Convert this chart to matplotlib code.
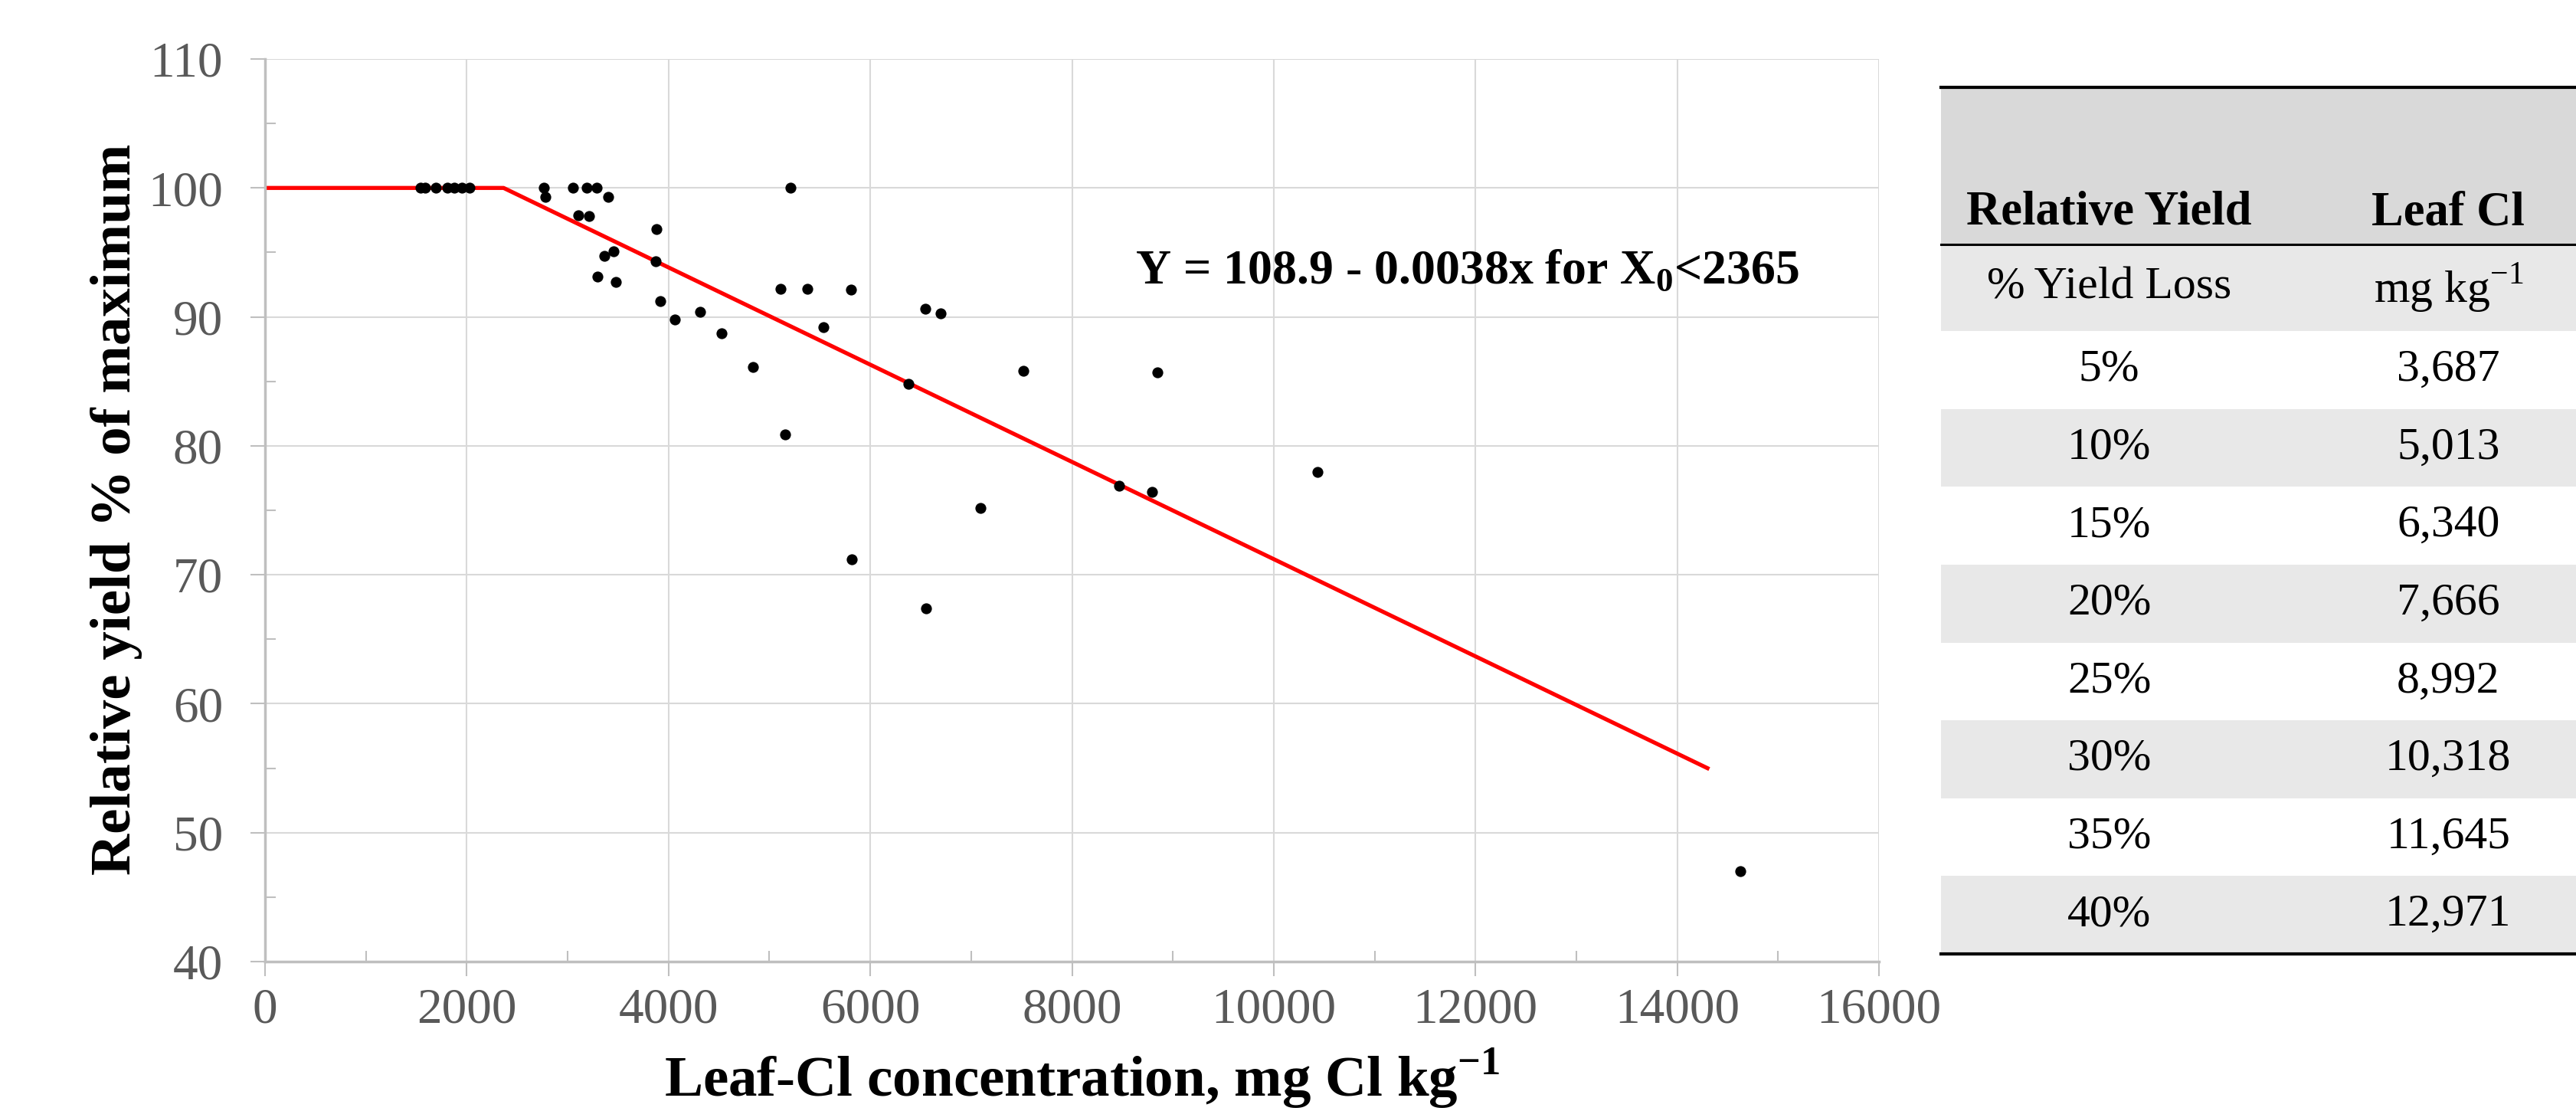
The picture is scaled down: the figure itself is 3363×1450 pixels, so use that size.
import numpy as np
import matplotlib.pyplot as plt
from matplotlib.patches import Rectangle
from matplotlib.ticker import MultipleLocator

plt.rcParams['font.family'] = ['Liberation Serif', 'DejaVu Serif']
plt.rcParams['mathtext.fontset'] = 'custom'
plt.rcParams['mathtext.rm'] = 'Liberation Serif'
plt.rcParams['mathtext.bf'] = 'Liberation Serif:bold'

# Leaf Cl (mg/kg) vs relative yield (%)
leaf_cl = [1543, 1587, 1692, 1805, 1875, 1950, 2027, 2764, 2777, 3052, 3192, 3287,
           3405, 3109, 3213, 3884, 3453, 3366, 3876, 3296, 3479, 3919, 4064, 4312,
           4525, 4839, 5114, 5206, 5380, 5537, 5811, 5153, 5820, 6382, 6543, 6698,
           7516, 8848, 6553, 7090, 8470, 8790, 10432, 14627]
rel_yield = [100, 100, 100, 100, 100, 100, 100, 100, 99.3, 100, 100, 100,
             99.3, 97.9, 97.8, 96.8, 95.1, 94.7, 94.3, 93.1, 92.7, 91.2, 89.8, 90.4,
             88.7, 86.1, 92.2, 100, 92.2, 89.2, 92.1, 80.9, 71.2, 84.8, 90.6, 90.3,
             85.8, 85.7, 67.4, 75.2, 76.9, 76.4, 78.0, 47.0]

# piecewise fit line
fit_x = [0, 2365, 14300]
fit_y = [100, 100, 55.0]

# table
loss_labels = ['5%', '10%', '15%', '20%', '25%', '30%', '35%', '40%']
cl_values = ['3,687', '5,013', '6,340', '7,666', '8,992', '10,318', '11,645', '12,971']

W, H = 3363, 1450
fig = plt.figure(figsize=(W / 100, H / 100), dpi=100)
ax = fig.add_axes([346 / W, 1 - 1255 / H, (2453 - 346) / W, (1255 - 77) / H])

grid_c = '#d9d9d9'
axis_c = '#bfbfbf'
tick_c = '#595959'

ax.set_xlim(0, 16000)
ax.set_ylim(40, 110)
ax.xaxis.set_major_locator(MultipleLocator(2000))
ax.xaxis.set_minor_locator(MultipleLocator(1000))
ax.yaxis.set_major_locator(MultipleLocator(10))
ax.yaxis.set_minor_locator(MultipleLocator(5))
ax.grid(True, which='major', color=grid_c, lw=1.5)
ax.set_axisbelow(True)
for s in ['top', 'right']:
    ax.spines[s].set_visible(False)
for s in ['left', 'bottom']:
    ax.spines[s].set_color(axis_c)
    ax.spines[s].set_linewidth(2.5)

ax.tick_params(which='major', direction='out', length=13.5, width=1.5, color=axis_c,
               labelsize=47, labelcolor=tick_c)
ax.tick_params(which='minor', direction='in', length=10, width=1.5, color=axis_c)
ax.tick_params(axis='y', which='major', pad=26)
ax.tick_params(axis='x', which='major', pad=11)

ax.plot(fit_x, fit_y, color='#ff0000', lw=3.8, zorder=2)
ax.scatter(leaf_cl, rel_yield, s=105, color='black', zorder=3, linewidths=0)

ax.text(0.745, 0.752, r'Y = 108.9 - 0.0038x for X$_{\mathbf{0}}$<2365', transform=ax.transAxes,
        ha='center', va='baseline', fontsize=46, fontweight='bold')

fig.text(152 / W, 1 - 665 / H, 'Relative yield % of maximum', rotation=90,
         ha='center', va='center', fontsize=54, fontweight='bold')
fig.text(1413 / W, 1 - 1431 / H, r'Leaf-Cl concentration, mg Cl kg$^{\mathbf{-1}}$',
         ha='center', va='baseline', fontsize=54, fontweight='bold')

# table drawn on its own axes
tx0, ty0, ty1 = 2534, 114, 1245
tax = fig.add_axes([tx0 / W, 1 - ty1 / H, (W - tx0) / W, (ty1 - ty0) / H])
total = ty1 - ty0
tax.set_xlim(0, 1)
tax.set_ylim(total, 0)
tax.axis('off')

head_h, unit_h = 205, 113
row_h = (total - head_h - unit_h) / len(loss_labels)
c1, c2 = 0.265, 0.799
stripe = '#e8e8e8'

tax.add_patch(Rectangle((0, 0), 1, head_h, color='#d9d9d9', lw=0))
tax.add_patch(Rectangle((0, head_h), 1, unit_h, color=stripe, lw=0))
tax.text(c1, 179, 'Relative Yield', ha='center', va='baseline', fontsize=45, fontweight='bold')
tax.text(c2, 179, 'Leaf Cl', ha='center', va='baseline', fontsize=45, fontweight='bold')
tax.text(c1, head_h + unit_h / 2, '%\u2009Yield Loss', ha='center', va='center', fontsize=43)
tax.text(c2, head_h + unit_h / 2, r'mg kg$^{-1}$', ha='center', va='center', fontsize=43)

for i, (lab, val) in enumerate(zip(loss_labels, cl_values)):
    y0 = head_h + unit_h + i * row_h
    if i % 2 == 1:
        tax.add_patch(Rectangle((0, y0), 1, row_h, color=stripe, lw=0))
    tax.text(c1, y0 + row_h / 2, lab, ha='center', va='center', fontsize=43)
    tax.text(c2, y0 + row_h / 2, val, ha='center', va='center', fontsize=43)

tax.axhline(0, color='black', lw=3, clip_on=False)
tax.axhline(head_h, color='black', lw=2.2, clip_on=False)
tax.axhline(total, color='black', lw=3, clip_on=False)

fig.savefig('out.png', dpi=100)
